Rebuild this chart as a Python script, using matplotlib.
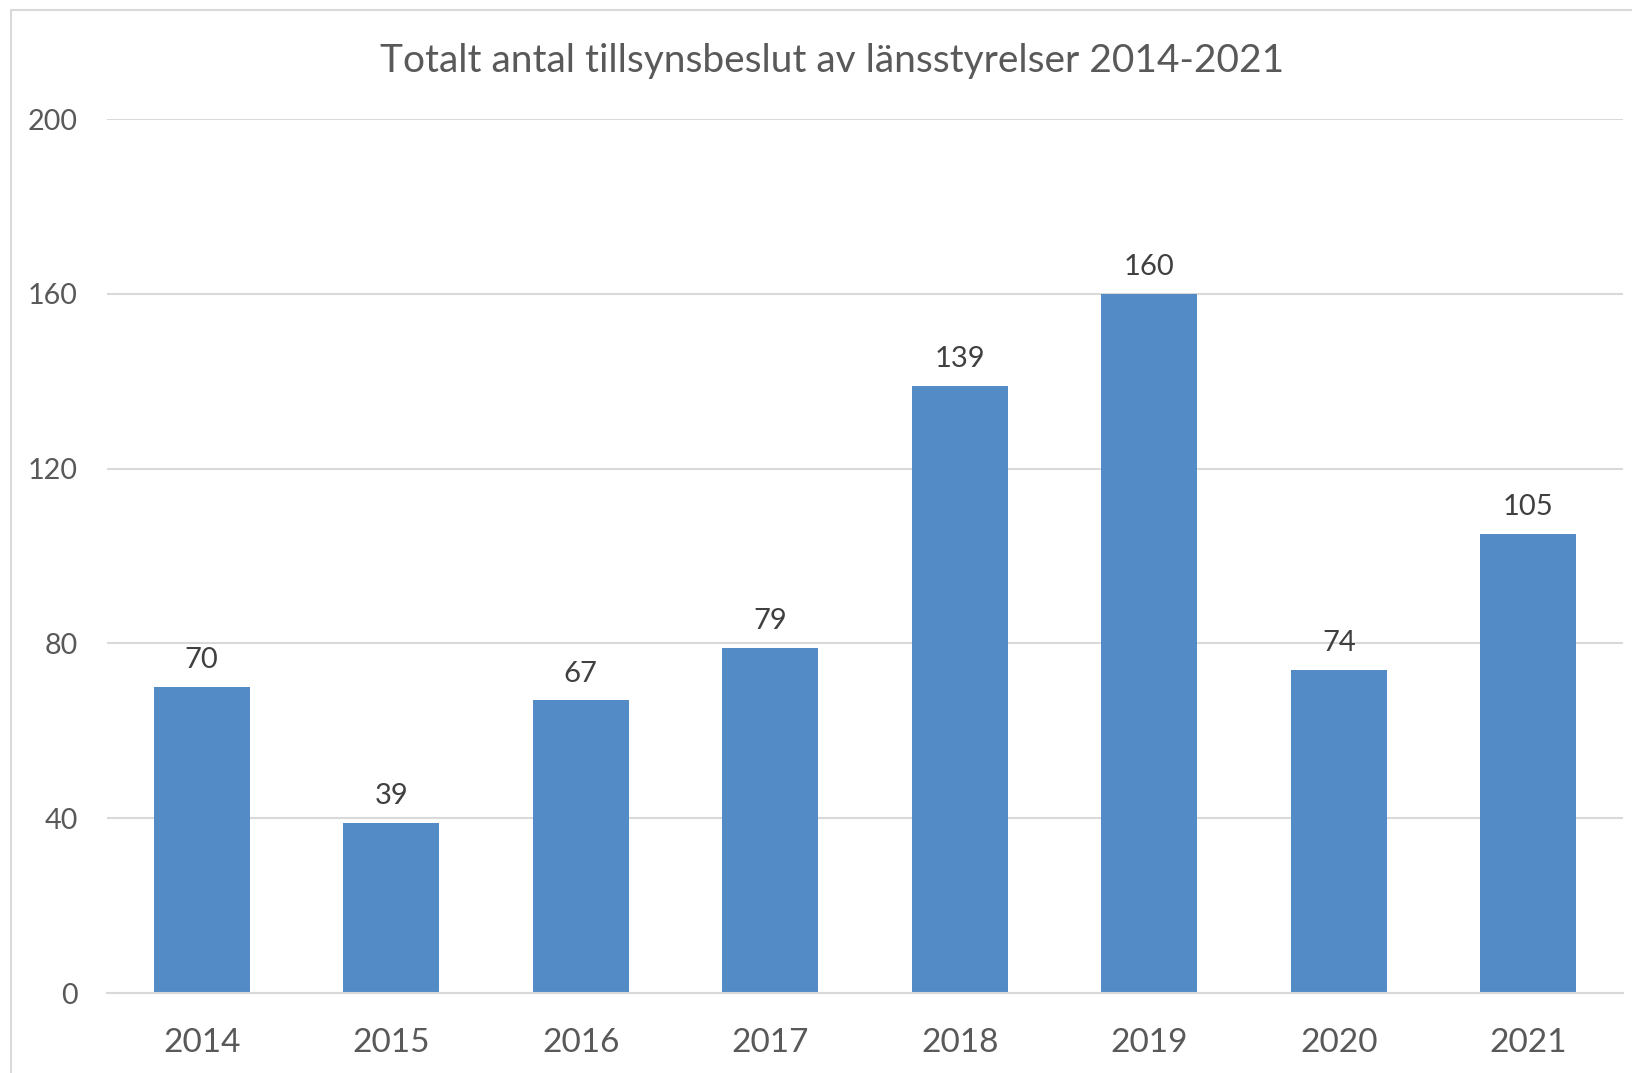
import matplotlib.pyplot as plt
from matplotlib.patches import Rectangle

years = ["2014", "2015", "2016", "2017", "2018", "2019", "2020", "2021"]
beslut = [70, 39, 67, 79, 139, 160, 74, 105]
y_ticks = [0, 40, 80, 120, 160, 200]

TEXT = "#595959"
BAR = "#528BC6"
GRID = "#D9D9D9"

plt.rcParams["font.family"] = ["Lato", "DejaVu Sans"]

W, H = 1632, 1073
fig = plt.figure(figsize=(W / 100, H / 100), dpi=100)

# the outer chart frame (only the left and top edges show in the crop)
fig.patches.append(Rectangle((11 / W, -0.1), 1.2, (H - 10) / H + 0.1, transform=fig.transFigure,
                             fill=False, edgecolor=GRID, linewidth=1.5))

ax = fig.add_axes([107 / W, 1 - 993 / H, (1623 - 107) / W, (993 - 119) / H])
x = range(len(years))
bars = ax.bar(x, beslut, width=0.505, color=BAR, zorder=2)

for xi, v in zip(x, beslut):
    ax.text(xi, v + 6.1, str(v), ha="center", va="center", fontsize=21, color="#404040")

ax.set_xlim(-0.5, len(years) - 0.5)
ax.set_ylim(0, 200)
ax.set_yticks(y_ticks)
ax.set_xticks(list(x))
ax.set_xticklabels(years)
ax.tick_params(axis="x", length=0, pad=25, labelsize=24, labelcolor=TEXT)
ax.tick_params(axis="y", length=0, pad=21, labelsize=20.7, labelcolor=TEXT)
ax.grid(axis="y", color=GRID, linewidth=1.5, zorder=0)
for s in ["top", "right", "left"]:
    ax.spines[s].set_visible(False)
ax.spines["bottom"].set_color(GRID)
ax.spines["bottom"].set_linewidth(1.5)

fig.text(832 / W, 1 - 61 / H, "Totalt antal tillsynsbeslut av länsstyrelser 2014-2021",
         ha="center", va="center", fontsize=28, color=TEXT)

fig.savefig("out.png", dpi=100, facecolor="white")
